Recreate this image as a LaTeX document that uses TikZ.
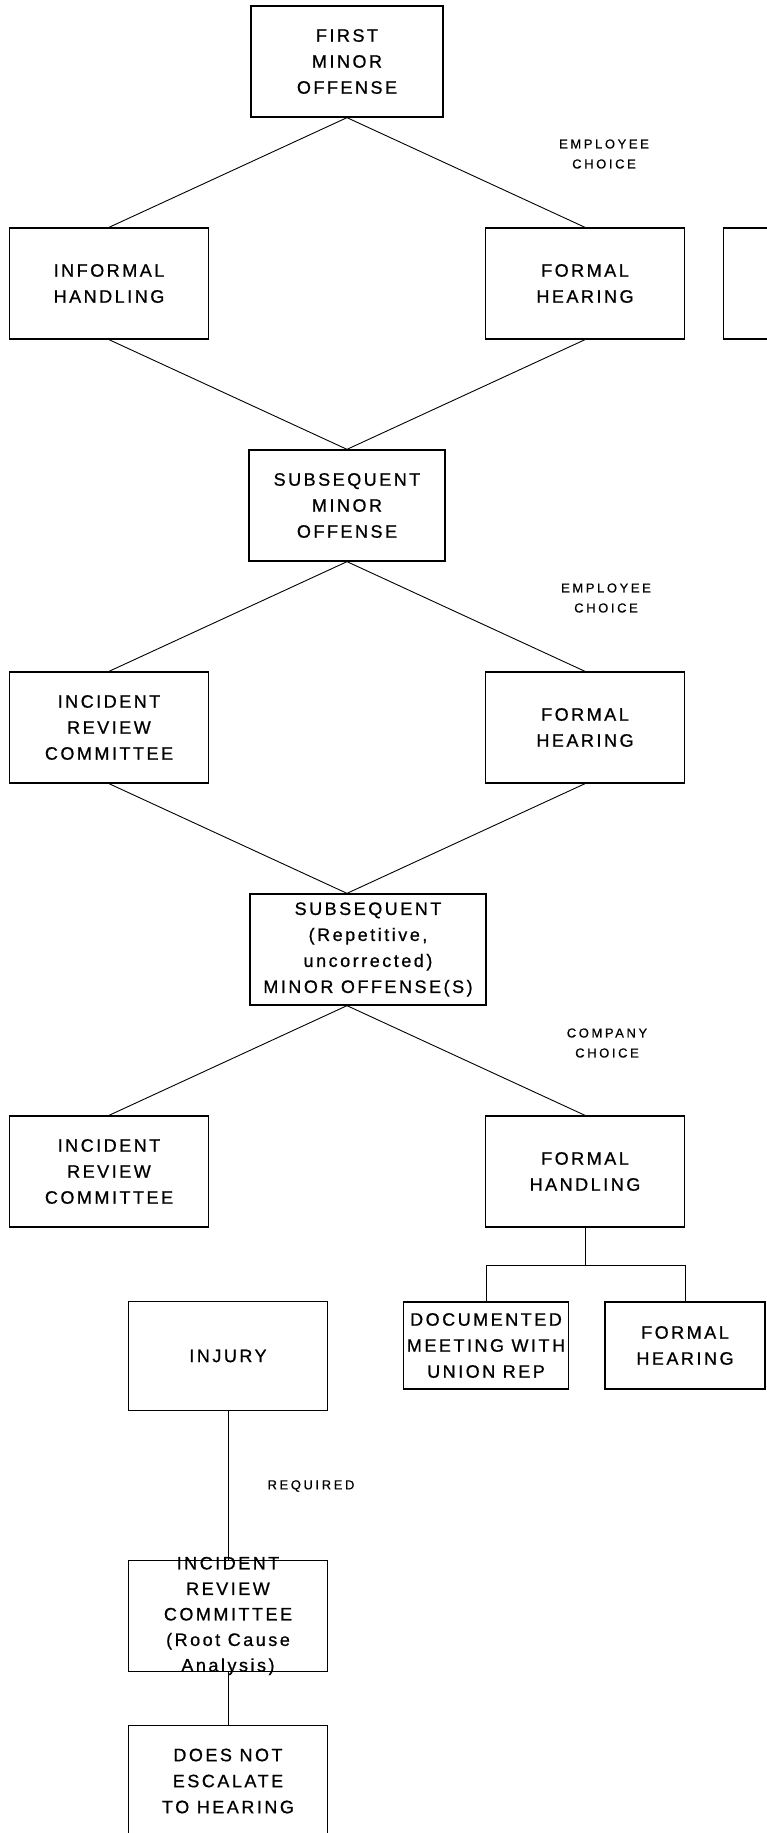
\documentclass[tikz,border=0pt]{standalone}
\usepackage{fontspec}
\setmainfont{Liberation Sans}
\newfontfamily\boxfont{Liberation Sans}[LetterSpace=14, FakeBold=0.8]
\newfontfamily\notefont{Liberation Sans}[LetterSpace=20, FakeBold=0.6]
\usetikzlibrary{positioning}

\tikzset{
	blk/.style={draw, line width=1.3pt, minimum width=199pt, minimum height=111pt, inner sep=0pt, align=center, font=\boxfont\fontsize{18}{26}\selectfont},
	sblk/.style={blk, minimum width=165pt, minimum height=87pt},
	note/.style={align=center, inner sep=0pt, font=\notefont\fontsize{13}{20}\selectfont}
}

\begin{document}
\begin{tikzpicture}[x=1pt, y=-1pt, node distance=222pt and 238pt, on grid]
			\useasboundingbox (0,0) rectangle (767,1833);
			\clip (0,0) rectangle (767,1833);

			\node[blk, minimum width=192pt] (first) at (347,61.5) {FIRST\\MINOR\\OFFENSE};
			\node[blk, below left=of first] (informal) {INFORMAL\\HANDLING};
			\node[blk, below right=of first] (formal1) {FORMAL\\HEARING};
			\node[blk, right=of formal1] (blank) {};
			\node[blk, minimum width=196pt, below right=of informal] (sub1) {SUBSEQUENT\\MINOR\\OFFENSE};
			\node[blk, below left=of sub1] (irc2) {INCIDENT\\REVIEW\\COMMITTEE};
			\node[blk, below right=of sub1] (formal2) {FORMAL\\HEARING};
			\node[blk, minimum width=236pt, below right=of irc2, xshift=21pt] (sub2) {SUBSEQUENT\\(Repetitive,\\uncorrected)\\MINOR OFFENSE(S)};
			\node[blk, below=444pt of irc2] (irc3) {INCIDENT\\REVIEW\\COMMITTEE};
			\node[blk, below=444pt of formal2] (fhand) {FORMAL\\HANDLING};
			\node[sblk, below left=174pt and 99pt of fhand] (doc) {DOCUMENTED\\MEETING WITH\\UNION REP};
			\node[sblk, minimum width=160pt, below right=174pt and 100pt of fhand] (formal3) {FORMAL\\HEARING};
			\node[blk, minimum height=109pt] (injury) at (228,1356) {INJURY};
			\node[blk, below=260pt of injury, label={[note, font=\boxfont\fontsize{18}{25.5}\selectfont]center:INCIDENT\\REVIEW\\COMMITTEE\\(Root Cause\\Analysis)}] (irc4) {};
			\node[blk, below=165pt of irc4] (noesc) {DOES NOT\\ESCALATE\\TO HEARING};

			\node[note] (ch1) at (604,154) {EMPLOYEE\\CHOICE};
			\node[note] (ch2) at (606,598) {EMPLOYEE\\CHOICE};
			\node[note] (ch3) at (607,1043) {COMPANY\\CHOICE};
			\node[note] (req) at (311,1486) {REQUIRED};

			\coordinate[below=38pt of fhand.south] (split);

			\draw[line width=0.9pt] (first.south) edge (informal.north)
			(first.south) edge (formal1.north)
			(informal.south) edge (sub1.north)
			(formal1.south) edge (sub1.north)

			(sub1.south) edge (irc2.north)
			(sub1.south) edge (formal2.north)
			(irc2.south) edge (sub2.north -| sub1)
			(formal2.south) edge (sub2.north -| sub1)

			(sub2.south -| sub1) edge (irc3.north)
			(sub2.south -| sub1) edge (fhand.north)
			(fhand.south) edge (split)
			(doc.north) |- (split) -| (formal3.north)

			(injury.south) edge (irc4.north)
			(irc4.south) edge (noesc.north);

		\end{tikzpicture}
\end{document}
